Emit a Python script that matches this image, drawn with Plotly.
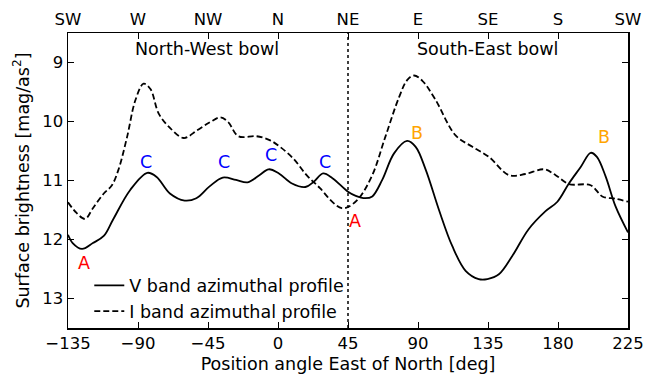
import plotly.graph_objects as go

# V band azimuthal profile (solid)
v_angle = [-135, -132, -126, -119, -112, -106, -95, -84, -78, -69.5, -60, -52.5, -44, -35.5, -27, -19.5,
           -12, -6, 0.6, 9, 17.6, 23, 29, 35, 45, 50, 56, 60.6, 67, 74.6, 83, 88.5, 95, 103.5, 112,
           120.6, 129, 134.6, 142, 150.6, 161, 172, 179.6, 187, 194.6, 201, 205, 210.6, 217, 225]
v_mag = [11.92, 12.06, 12.16, 12.06, 11.94, 11.66, 11.16, 10.87, 10.94, 11.22, 11.34, 11.30, 11.10, 10.95,
         10.99, 11.03, 10.91, 10.81, 10.88, 11.05, 11.11, 11.02, 10.88, 10.96, 11.19, 11.26, 11.30, 11.27,
         10.99, 10.54, 10.33, 10.43, 10.82, 11.50, 12.11, 12.53, 12.67, 12.67, 12.59, 12.28, 11.83, 11.52,
         11.36, 11.05, 10.77, 10.53, 10.60, 10.93, 11.44, 11.88]

# I band azimuthal profile (dashed)
i_angle = [-135, -129.5, -124, -119, -112, -107, -102.6, -97, -91.7, -86.4, -82, -76.6, -69, -60.6, -52,
           -43.6, -37, -32, -25.5, -13.7, -5, 1.3, 9.9, 18.4, 27, 35.6, 41, 45, 52, 60.6, 69, 77.8, 83,
           87.4, 92.8, 101, 114, 125, 135.6, 148.5, 159, 171, 178.5, 187, 201, 208.5, 217, 225]
i_mag = [11.37, 11.55, 11.65, 11.47, 11.22, 11.09, 10.82, 10.26, 9.64, 9.36, 9.45, 9.87, 10.12, 10.28,
         10.15, 10.01, 9.93, 10.01, 10.25, 10.25, 10.32, 10.43, 10.63, 10.91, 11.13, 11.38, 11.47, 11.45,
         11.30, 10.91, 10.26, 9.59, 9.30, 9.22, 9.31, 9.62, 10.23, 10.43, 10.60, 10.91, 10.89, 10.81,
         10.91, 11.06, 11.08, 11.27, 11.31, 11.36]

tick_vals = [-135, -90, -45, 0, 45, 90, 135, 180, 225]
tick_text_bottom = ["\u2212135", "\u221290", "\u221245", "0", "45", "90", "135", "180", "225"]
compass = ["SW", "W", "NW", "N", "NE", "E", "SE", "S", "SW"]
y_ticks = [9, 10, 11, 12, 13]

labels = [
    ("A", -124.7, 12.39, "red"),
    ("A", 49.5, 11.68, "red"),
    ("C", -84.9, 10.68, "blue"),
    ("C", -34.7, 10.68, "blue"),
    ("C", -4.7, 10.57, "blue"),
    ("C", 30.2, 10.68, "blue"),
    ("B", 89.6, 10.19, "orange"),
    ("B", 209.6, 10.27, "orange"),
]
regions = [("North-West bowl", -45.5, 8.77), ("South-East bowl", 135, 8.77)]

FONT = "DejaVu Sans"
fs_text = 17.5
fs_tick = 16.5

fig = go.Figure()
fig.add_trace(go.Scatter(x=v_angle, y=v_mag, mode="lines", name="V band azimuthal profile",
                         line=dict(color="black", width=1.8, shape="spline", smoothing=1.0)))
fig.add_trace(go.Scatter(x=i_angle, y=i_mag, mode="lines", name="I band azimuthal profile",
                         line=dict(color="black", width=1.8, dash="6px,3px", shape="spline", smoothing=1.0)))
# invisible trace carrying the top (compass) axis
fig.add_trace(go.Scatter(x=[tick_vals[0], tick_vals[-1]], y=[y_ticks[2], y_ticks[2]], xaxis="x2", mode="lines",
                         line=dict(width=0), showlegend=False, hoverinfo="skip"))

fig.add_shape(type="line", x0=45, x1=45, y0=0, y1=1, xref="x", yref="paper",
              line=dict(color="black", width=1.5, dash="dot"))

for t, x, y, c in labels:
    fig.add_annotation(x=x, y=y, text=t, showarrow=False, font=dict(color=c, size=fs_text, family=FONT))
for t, x, y in regions:
    fig.add_annotation(x=x, y=y, text=t, showarrow=False, font=dict(color="black", size=fs_text, family=FONT))

fig.update_layout(
    width=647, height=380,
    margin=dict(l=68, r=19, t=33, b=52),
    paper_bgcolor="white", plot_bgcolor="white",
    font=dict(family=FONT, size=fs_tick, color="black"),
    showlegend=True,
    legend=dict(x=0.038, y=-0.005, xanchor="left", yanchor="bottom", bgcolor="rgba(0,0,0,0)",
                font=dict(size=fs_text, family=FONT), tracegroupgap=0),
    xaxis=dict(range=[-135, 225], tickvals=tick_vals, ticktext=tick_text_bottom,
               ticks="inside", ticklen=6, tickwidth=1, tickcolor="black",
               showline=True, linecolor="black", linewidth=1.5, mirror=True,
               showgrid=False, zeroline=False, automargin=False,
               tickfont=dict(size=fs_tick),
               title=dict(text="Position angle East of North [deg]", standoff=5,
                          font=dict(size=fs_text))),
    xaxis2=dict(range=[-135, 225], overlaying="x", side="top", tickvals=tick_vals, ticktext=compass,
                ticks="inside", ticklen=6, tickwidth=1, tickcolor="black", automargin=False,
                tickfont=dict(size=fs_tick), ticklabelstandoff=4,
                showline=False, showgrid=False, zeroline=False),
    yaxis=dict(range=[13.5, 8.5], tickvals=y_ticks,
               ticks="inside", ticklen=6, tickwidth=1, tickcolor="black",
               showline=True, linecolor="black", linewidth=1.5, mirror="ticks",
               showgrid=False, zeroline=False, automargin=False,
               tickfont=dict(size=fs_tick),
               title=dict(text="Surface brightness [mag/as<sup>2</sup>]", standoff=8,
                          font=dict(size=fs_text))),
)

# remove the page's default 8px body margin so the 647x380 figure fills the window exactly
fig.write_html("out.html",
               config={"displayModeBar": False, "staticPlot": True},
               post_script="document.body.style.margin='0';document.body.style.overflow='hidden';")
